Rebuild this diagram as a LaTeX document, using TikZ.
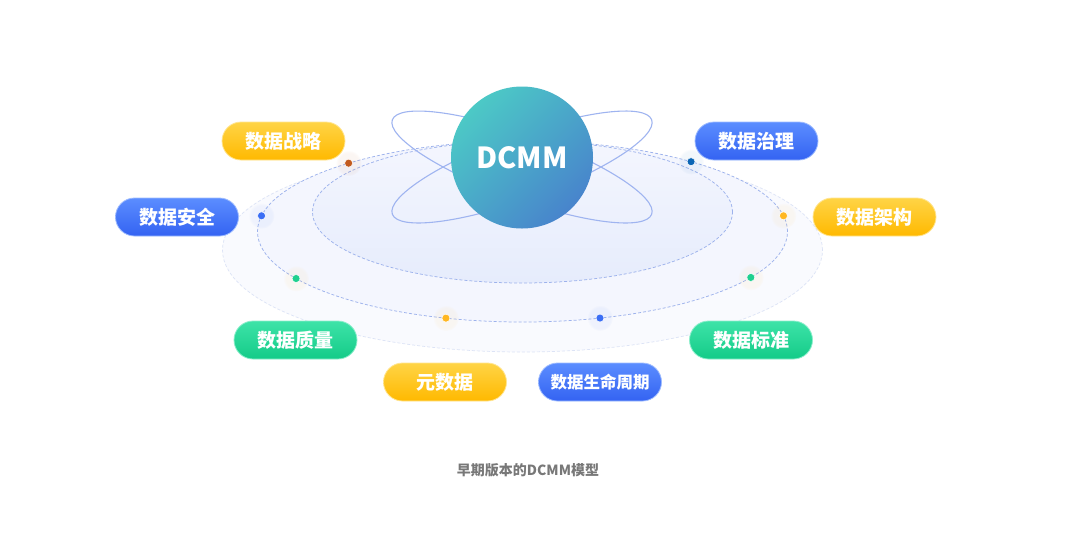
\documentclass[tikz,border=0pt]{standalone}
\usepackage{fontspec}
\usepackage{xcolor}
\usepackage{tikz}
\usetikzlibrary{
  positioning,
  calc,
  shadings,
  fadings
}
\newfontfamily\cjk{Noto Sans CJK SC}
\definecolor{dcTeal}{HTML}{4CC9C6}
\definecolor{dcSteel}{HTML}{4884CC}
\definecolor{dcYelTop}{HTML}{FFD446}
\definecolor{dcYelBot}{HTML}{FFB900}
\definecolor{dcBlueTop}{HTML}{5B8DFF}
\definecolor{dcBlueBot}{HTML}{3463F2}
\definecolor{dcGreenTop}{HTML}{3DE3A8}
\definecolor{dcGreenBot}{HTML}{14CB88}
\definecolor{dcRing}{HTML}{9DB2EC}
\definecolor{dcOrbit}{HTML}{9FB4F0}
\definecolor{dcFaint}{HTML}{DCE3F6}
\definecolor{dcPale}{HTML}{F9FAFE}
\definecolor{dcSoft}{HTML}{F4F6FE}
\definecolor{dcMist}{HTML}{E6ECFC}
\definecolor{dcCaption}{HTML}{787878}
\definecolor{dcRust}{HTML}{C25A1E}
\definecolor{dcNavy}{HTML}{0A65B5}
\definecolor{dcBlueDot}{HTML}{3A6EF5}
\definecolor{dcAmber}{HTML}{FFB722}
\definecolor{dcMint}{HTML}{1FD08F}
\tikzset{
  pill/.style={
    rounded corners=19pt, minimum width=123pt, minimum height=38pt,
    inner sep=0pt, text=white, line width=0.8pt,
    font=\cjk\bfseries\fontsize{19}{19}\selectfont
  },
  yelpill/.style={pill, top color=dcYelTop, bottom color=dcYelBot, draw=dcYelTop!60!white},
  bluepill/.style={pill, top color=dcBlueTop, bottom color=dcBlueBot, draw=dcBlueTop!60!white},
  greenpill/.style={pill, top color=dcGreenTop, bottom color=dcGreenBot, draw=dcGreenTop!60!white},
  core/.style={
    circle, minimum size=142pt, inner sep=0pt, text=white,
    top color=dcTeal, bottom color=dcSteel, shading angle=45,
    font=\cjk\bfseries\fontsize{29}{29}\selectfont
  },
  ring/.style={dashed, dash pattern=on 3pt off 2pt, draw=dcRing, line width=0.75pt},
  faintring/.style={dashed, dash pattern=on 3pt off 2pt, draw=dcFaint, line width=0.7pt},
  orbit/.style={draw=dcOrbit, line width=1.1pt},
  dcdot/.style={circle, inner sep=0pt, minimum size=8pt, fill=#1, draw=white, line width=0.5pt},
  halo/.style={circle, inner sep=0pt, minimum size=26pt, fill=#1, fill opacity=0.05,
    path fading=circle with fuzzy edge 20 percent},
  caption/.style={text=dcCaption, font=\cjk\bfseries\fontsize{14}{14}\selectfont}
}

\begin{document}
\begin{tikzpicture}[x=1pt, y=-1pt]
  \useasboundingbox[fill=white] (0,0) rectangle (1080,542);
  % rings
  \coordinate (outer) at (522.5,250);
  \coordinate (mid) at (522.5,231.5);
  \coordinate (inner) at (522.5,212);
  \fill[dcPale] (outer) ellipse (300pt and 102pt);
  \draw[faintring] (outer) ellipse (300pt and 102pt);
  \fill[dcSoft] (mid) ellipse (265pt and 90.5pt);
  \draw[ring] (mid) ellipse (265pt and 90.5pt);
  \shade[top color=dcSoft, bottom color=dcMist] (inner) ellipse (210pt and 71pt);
  \draw[ring] (inner) ellipse (210pt and 71pt);
  % orbits and core
  \coordinate (atom) at (522,167);
  \draw[orbit, rotate around={-20:(atom)}] (atom) ellipse (138pt and 32pt);
  \draw[orbit, rotate around={20:(atom)}] (atom) ellipse (138pt and 32pt);
  \node[core] (dcmm) at (522,157.5) {DCMM};
  % dots on the ring
  \node[halo=dcRust] at ($(mid)+(131:265pt and 90.5pt)$) {};
  \node[halo=dcNavy] at ($(mid)+(50.5:265pt and 90.5pt)$) {};
  \node[halo=dcBlueDot] at ($(mid)+(170:265pt and 90.5pt)$) {};
  \node[halo=dcAmber] at ($(mid)+(10:265pt and 90.5pt)$) {};
  \node[halo=dcAmber] at ($(mid)+(211.3:265pt and 90.5pt)$) {};
  \node[halo=dcAmber] at ($(mid)+(329.5:265pt and 90.5pt)$) {};
  \node[halo=dcAmber] at ($(mid)+(253.2:265pt and 90.5pt)$) {};
  \node[halo=dcBlueDot] at ($(mid)+(287:265pt and 90.5pt)$) {};
  \node[dcdot=dcRust] (d-strategy) at ($(mid)+(131:265pt and 90.5pt)$) {};
  \node[dcdot=dcNavy] (d-governance) at ($(mid)+(50.5:265pt and 90.5pt)$) {};
  \node[dcdot=dcBlueDot] (d-security) at ($(mid)+(170:265pt and 90.5pt)$) {};
  \node[dcdot=dcAmber] (d-architecture) at ($(mid)+(10:265pt and 90.5pt)$) {};
  \node[dcdot=dcMint] (d-quality) at ($(mid)+(211.3:265pt and 90.5pt)$) {};
  \node[dcdot=dcMint] (d-standard) at ($(mid)+(329.5:265pt and 90.5pt)$) {};
  \node[dcdot=dcAmber] (d-metadata) at ($(mid)+(253.2:265pt and 90.5pt)$) {};
  \node[dcdot=dcBlueDot] (d-lifecycle) at ($(mid)+(287:265pt and 90.5pt)$) {};
  % labels
  \node[yelpill] (strategy) at (283.5,141) {数据战略};
  \node[bluepill] (governance) at (756.5,141) {数据治理};
  \node[bluepill] (security) at (177,217) {数据安全};
  \node[yelpill] (architecture) at (874.5,217) {数据架构};
  \node[greenpill] (quality) at (295.5,340) {数据质量};
  \node[greenpill] (standard) at (751,340) {数据标准};
  \node[yelpill] (metadata) at (445,382) {元数据};
  \node[bluepill, font=\cjk\bfseries\fontsize{16.5}{16.5}\selectfont] (lifecycle) at (600,382) {数据生命周期};
  \node[caption] (title) at (528,470) {早期版本的DCMM模型};
\end{tikzpicture}
\end{document}
